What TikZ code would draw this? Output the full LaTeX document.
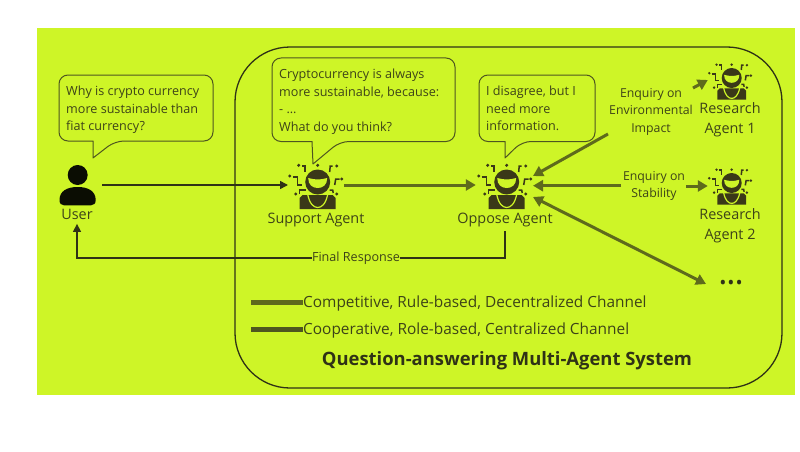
\documentclass[tikz,border=0pt]{standalone}
\usepackage{fontspec}
\setmainfont{Open Sans}
\usetikzlibrary{arrows.meta,calc}
\definecolor{lime}{HTML}{CEF527}
\definecolor{inkdark}{HTML}{2F3216}
\definecolor{olive}{HTML}{5E6A1C}
\definecolor{olivedark}{HTML}{4E5620}
\definecolor{robotink}{HTML}{3A3818}
\definecolor{txt}{HTML}{3D4318}
\tikzset{
  x=1pt,y=-1pt,
  bubble/.style={draw=olivedark,line width=1pt,fill=lime,rounded corners=9pt,line join=round},
  saytext/.style={anchor=north west,align=left,inner sep=0pt,text=txt,font=\fontsize{12.6}{17.5}\selectfont},
  agentname/.style={inner sep=0pt,text=txt,align=center,font=\fontsize{14.4}{20.5}\selectfont},
  enquiry/.style={inner sep=0pt,text=txt,align=center,font=\fontsize{12.3}{17.5}\selectfont},
  legendtext/.style={anchor=west,inner sep=0pt,text=txt,font=\fontsize{15.4}{17}\selectfont},
  slot/.style={inner sep=0pt,minimum width=#1,minimum height=38pt},
  comp/.style={draw=olive,line width=3pt,-{Triangle[length=10pt,width=11pt]}},
  compboth/.style={draw=olive,line width=3pt,{Triangle[length=10pt,width=11pt]}-{Triangle[length=10pt,width=11pt]}},
  thinlink/.style={draw=inkdark,line width=1.5pt},
  robot/.pic={
    \begin{scope}[draw=robotink,line width=1.5pt]
      \fill[robotink] (-15,13) -- (15,13) -- (18,16) -- (18,27) -- (-18,27) -- (-18,16) -- cycle;
      \draw[lime,line width=1.2pt] (-10,12.5) .. controls (-8,22) and (-4,25.5) .. (0,25.5) .. controls (4,25.5) and (8,22) .. (10,12.5);
      \fill[robotink] (0,0) ellipse [x radius=12.5,y radius=12.5];
      \fill[lime] (-9.5,-4) .. controls (-5,-3) and (-3,-2.5) .. (0,-2.5) .. controls (3,-2.5) and (5,-3) .. (9.5,-4) .. controls (9.5,3) and (5,6) .. (0,6) .. controls (-5,6) and (-9.5,3) .. (-9.5,-4) -- cycle;
      \fill[robotink] (0,-16.7) circle (1.7) (-19,-16.7) circle (1.7) (19,-16) circle (1.7)
        (-28,-6) circle (1.7) (24,-3) circle (1.7) (-22,12) circle (1.7) (19,12) circle (1.7);
      \draw (-15.5,-16) -- (-12.5,-16) -- (-12.5,-10);
      \draw (15,-16) -- (12.5,-16) -- (12,-10);
      \draw (-25,-5) -- (-20,-5) -- (-20,3) -- (-16,3);
      \draw (22,-3) -- (18,-3) -- (17,3);
      \draw (-18,12) -- (-18,8) -- (-12,8);
      \draw (12,8) -- (15,8) -- (15.5,11);
    \end{scope}
  }
}
\begin{document}
\begin{tikzpicture}
\useasboundingbox (0,0) rectangle (800,452);
\fill[white] (0,0) rectangle (800,452);
\fill[lime] (37,28) rectangle (795,395);
\draw[inkdark,line width=1.3pt,rounded corners=55pt] (235,47) rectangle (782,388);

% bubbles
\draw[bubble] (93,141) -- (59,141) -- (59,75) -- (213,75) -- (213,141) -- (115,141) [sharp corners] -- (93,158) -- cycle;
\draw[bubble] (312,141.5) -- (272,141.5) -- (272,58) -- (455,58) -- (455,141.5) -- (340,141.5) [sharp corners] -- (313,164) -- cycle;
\draw[bubble] (505,141.5) -- (479,141.5) -- (479,75) -- (595,75) -- (595,141.5) -- (522,141.5) [sharp corners] -- (505,158) -- cycle;
\node[saytext] (q1) at (66,86) {Why is crypto currency\\more sustainable than\\fiat currency?};
\node[saytext] (q2) at (279,69) {Cryptocurrency is always\\more sustainable, because:\\- ...\\What do you think?};
\node[saytext] (q3) at (486,86) {I disagree, but I\\need more\\information.};

% user icon
\fill[black!88!olive] (77.7,175) circle (10);
\fill[black!88!olive] (59.5,200) .. controls (59.5,191) and (67,187) .. (77.7,187) .. controls (88,187) and (95.7,191) .. (95.7,200) .. controls (95.7,203.5) and (94,205.3) .. (91,205.3) -- (64,205.3) .. controls (61,205.3) and (59.5,203.5) .. (59.5,200) -- cycle;

% robots
\pic at (317.7,182) {robot};
\pic at (506.7,182) {robot};
\pic[scale=0.8] at (731.7,78) {robot};
\pic[scale=0.8] at (731.7,183) {robot};

% anchors
\node[slot=4pt] (user) at (100,185) {};
\node[slot=58pt] (support) at (316,185) {};
\node[slot=58pt] (oppose) at (505,185) {};
\node[slot=4pt] (res1) at (710,80) {};
\node[slot=4pt] (res2) at (710,186) {};

% labels
\node[agentname] (userlabel) at (77,214.5) {User};
\node[agentname] (supportlabel) at (316,220) {Support Agent};
\node[agentname] (opposelabel) at (505,220) {Oppose Agent};
\node[agentname] (r1label) at (730,120) {Research\\Agent 1};
\node[agentname] (r2label) at (730,226) {Research\\Agent 2};
\node[enquiry] (enq1) at (651,111.5) {Enquiry on\\Environmental\\Impact};
\node[enquiry] (enq2) at (654,186) {Enquiry on\\Stability};
\node[enquiry,font=\fontsize{12.6}{15}\selectfont] (final) at (356,258) {Final Response};
\node[inner sep=0pt,text=inkdark,font=\fontsize{19}{20}\selectfont] (more) at (731,284.5) {\textbullet\hspace{1pt}\textbullet\hspace{1pt}\textbullet};

% connectors
\draw[thinlink,-{Triangle[length=8pt,width=8pt]}] (user.east) -- (288,185);
\draw[comp] (344,185) -- (oppose.west);
\draw[thinlink] (opposelabel.south) ++(0,4) |- (final.east);
\draw[thinlink,-{Triangle[length=8pt,width=8pt]}] (final.west) -| ($(userlabel.south)+(0,4)$);
\coordinate (e1a) at (608,134);
\coordinate (e1tip) at (533,176);
\coordinate (e1b) at (693,88);
\coordinate (e2tip) at (533,185.7);
\coordinate (e2a) at (621,185.7);
\coordinate (e2b) at (686,186);
\coordinate (e3tip) at (533,197);
\coordinate (e3end) at (706,284);
\draw[comp] (e1a) -- (e1tip);
\draw[comp] (e1b) -- (res1.west);
\draw[comp] (e2a) -- (e2tip);
\draw[comp] (e2b) -- (res2.west);
\draw[compboth] (e3tip) -- (e3end);

% legend
\coordinate (l1a) at (251,302);
\coordinate (l2a) at (251,329);
\node[legendtext] (l1) at (303,303) {Competitive, Rule-based, Decentralized Channel};
\node[legendtext] (l2) at (303,330) {Cooperative, Role-based, Centralized Channel};
\draw[olive,line width=5pt] (l1a) -- (l1a -| l1.west);
\draw[olivedark,line width=5pt] (l2a) -- (l2a -| l2.west);
\node[inner sep=0pt,text=inkdark,font=\fontsize{18.4}{20}\selectfont\bfseries] (title) at (507,361) {Question-answering Multi-Agent System};
\end{tikzpicture}
\end{document}
